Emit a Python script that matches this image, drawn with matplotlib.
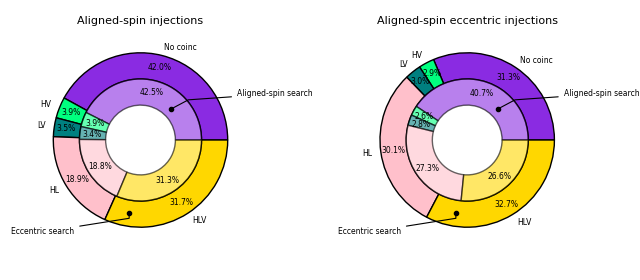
import matplotlib
matplotlib.use("Agg")
import matplotlib.pyplot as plt

# Categorias de coincidência entre detectores
categorias = ["No coinc", "HV", "LV", "HL", "HLV"]
cores = ["blueviolet", "springgreen", "teal", "pink", "gold"]

titulo_esq = "Aligned-spin injections"
externo_esq = [42.0, 3.9, 3.5, 18.9, 31.7]   # Eccentric search
interno_esq = [42.5, 3.9, 3.4, 18.8, 31.3]   # Aligned-spin search

titulo_dir = "Aligned-spin eccentric injections"
externo_dir = [31.3, 2.9, 3.0, 30.1, 32.7]
interno_dir = [40.7, 2.6, 2.8, 27.3, 26.6]

ESCALA = 87.2  # pixels por unidade de raio
FONTE = 5.5


def desenhar_donut(ax, titulo, externo, interno):
    """Desenha os dois aneis (busca excêntrica fora, aligned-spin dentro)."""
    ax.pie(externo, radius=1.0, colors=cores, labels=categorias,
           startangle=0, autopct='%1.1f%%', pctdistance=0.86, labeldistance=1.1,
           wedgeprops=dict(width=0.3, edgecolor='black', linewidth=1.0),
           textprops=dict(fontsize=FONTE))
    ax.pie(interno, radius=0.7, colors=cores,
           startangle=0, autopct='%1.1f%%', pctdistance=0.8,
           wedgeprops=dict(width=0.3, edgecolor='black', linewidth=1.0, alpha=0.6),
           textprops=dict(fontsize=FONTE))

    # anotacoes com ponto
    ax.plot(0.35, 0.355, 'o', color='black', markersize=3)
    ax.annotate("Aligned-spin search", xy=(0.35, 0.355), xytext=(1.107, 0.53),
                ha='left', va='center', fontsize=FONTE,
                arrowprops=dict(arrowstyle='-', color='black', lw=0.8,
                                connectionstyle="angle,angleA=4,angleB=28"))
    ax.plot(-0.13, -0.84, 'o', color='black', markersize=3)
    ax.annotate("Eccentric search", xy=(-0.13, -0.84), xytext=(-0.76, -1.055),
                ha='right', va='center', fontsize=FONTE,
                arrowprops=dict(arrowstyle='-', color='black', lw=0.8,
                                connectionstyle="angle,angleA=9,angleB=90"))

    ax.set_xlim(-140 / ESCALA, 140 / ESCALA)
    ax.set_ylim(-110 / ESCALA, 110 / ESCALA)
    ax.set_aspect('auto')
    ax.set_title(titulo, fontsize=8, pad=4)


fig = plt.figure(figsize=(6.4, 2.8), dpi=100)
ax1 = fig.add_axes([(140.5 - 140) / 640, 30 / 280, 280 / 640, 220 / 280])
ax2 = fig.add_axes([(467.2 - 140) / 640, 30 / 280, 280 / 640, 220 / 280])

desenhar_donut(ax1, titulo_esq, externo_esq, interno_esq)
desenhar_donut(ax2, titulo_dir, externo_dir, interno_dir)

fig.savefig("out.png", dpi=100)
